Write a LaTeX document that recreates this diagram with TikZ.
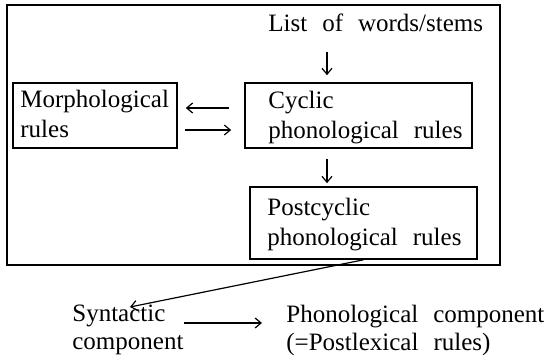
\documentclass[tikz,border=0pt]{standalone}
\usepackage{fontspec}
\setmainfont{Liberation Serif}[WordSpace=2.4]
\usetikzlibrary{arrows.meta}

\begin{document}
\begin{tikzpicture}[x=0.5pt,y=-0.5pt,
  rulebox/.style={draw,line width=0.8pt,inner sep=0pt},
  txt/.style={inner sep=0pt,anchor=north west,align=left,font=\fontsize{12.5}{15}\selectfont},
  arr/.style={line width=0.6pt,-{Straight Barb[length=3pt,width=5pt]}}]
  \useasboundingbox (0,0) rectangle (554,364);

  % the lexicon
  \draw[line width=0.9pt] (7,5) rectangle (500,265);

  \node[txt] (list) at (268,13) {List of words/stems};

  \node[rulebox,minimum width=82pt,minimum height=32.5pt] (morph) at (95,115.5) {};
  \node[txt] (morphtxt) at (20,90) {Morphological\\rules};

  \node[rulebox,minimum width=113.5pt,minimum height=32.5pt] (cyc) at (358.5,115.5) {};
  \node[txt] (cyctxt) at (268,91) {Cyclic\\phonological rules};

  \node[rulebox,minimum width=113.5pt,minimum height=36pt] (post) at (363.5,223) {};
  \node[txt] (posttxt) at (267,198) {Postcyclic\\phonological rules};

  \node[txt,font=\fontsize{12.5}{14}\selectfont] (synt) at (72,305) {Syntactic\\component};
  \node[txt,font=\fontsize{12.5}{14}\selectfont] (phon) at (286,305) {Phonological component\\(=Postlexical rules)};

  \draw[arr,shorten <=10pt,shorten >=3.5pt] ([xshift=-15.75pt]cyc.north |- list.south) -- ([xshift=-15.75pt]cyc.north);
  \draw[arr,shorten <=7.5pt,shorten >=4pt] ([yshift=3.75pt]cyc.west) -- ([yshift=3.75pt]cyc.west -| morph.east);
  \draw[arr,shorten <=3.5pt,shorten >=6.5pt] ([yshift=-7.25pt]cyc.west -| morph.east) -- ([yshift=-7.25pt]cyc.west);
  \draw[arr,shorten <=5pt,shorten >=1.5pt] ([xshift=-15.75pt]cyc.south) -- ([xshift=-15.75pt]cyc.south |- post.north);

  \draw[arr] (post.south) -- ([xshift=29pt,yshift=-1pt]synt.north west);
  \draw[arr,shorten >=12pt] ([yshift=-9pt]synt.north east) -- ([yshift=-9pt]synt.north east -| phon.west);

\end{tikzpicture}
\end{document}
